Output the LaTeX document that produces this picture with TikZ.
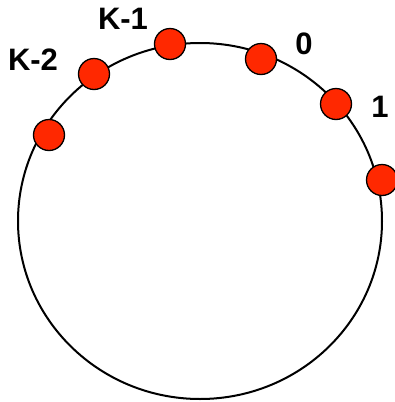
\documentclass[tikz,border=0pt]{standalone}
\usepackage{fontspec}
\setmainfont{Liberation Sans}
\definecolor{dotred}{RGB}{255,40,0}
\tikzset{
    peer/.style={circle,draw=black,line width=1.3pt,fill=dotred,minimum size=31pt,inner sep=0pt},
    tag/.style={font=\fontsize{31}{36}\selectfont\bfseries}
}
\begin{document}
\begin{tikzpicture}[x=1pt,y=-1pt]
\useasboundingbox (0,0) rectangle (394,402);
\draw[line width=2pt] (200,221) ellipse [x radius=182,y radius=178];

\node[peer] (p1) at (49,135) {};
\node[peer] (p2) at (94,74) {};
\node[peer] (p3) at (170,44) {};
\node[peer] (p4) at (261,59) {};
\node[peer] (p5) at (336,104) {};
\node[peer] (p6) at (382,180) {};

\node[tag] (k2) at (33,60) {K-2};
\node[tag] (k1) at (123,19) {K-1};
\node[tag] (n0) at (304,44) {0};
\node[tag] (n1) at (380,107) {1};
\end{tikzpicture}
\end{document}
